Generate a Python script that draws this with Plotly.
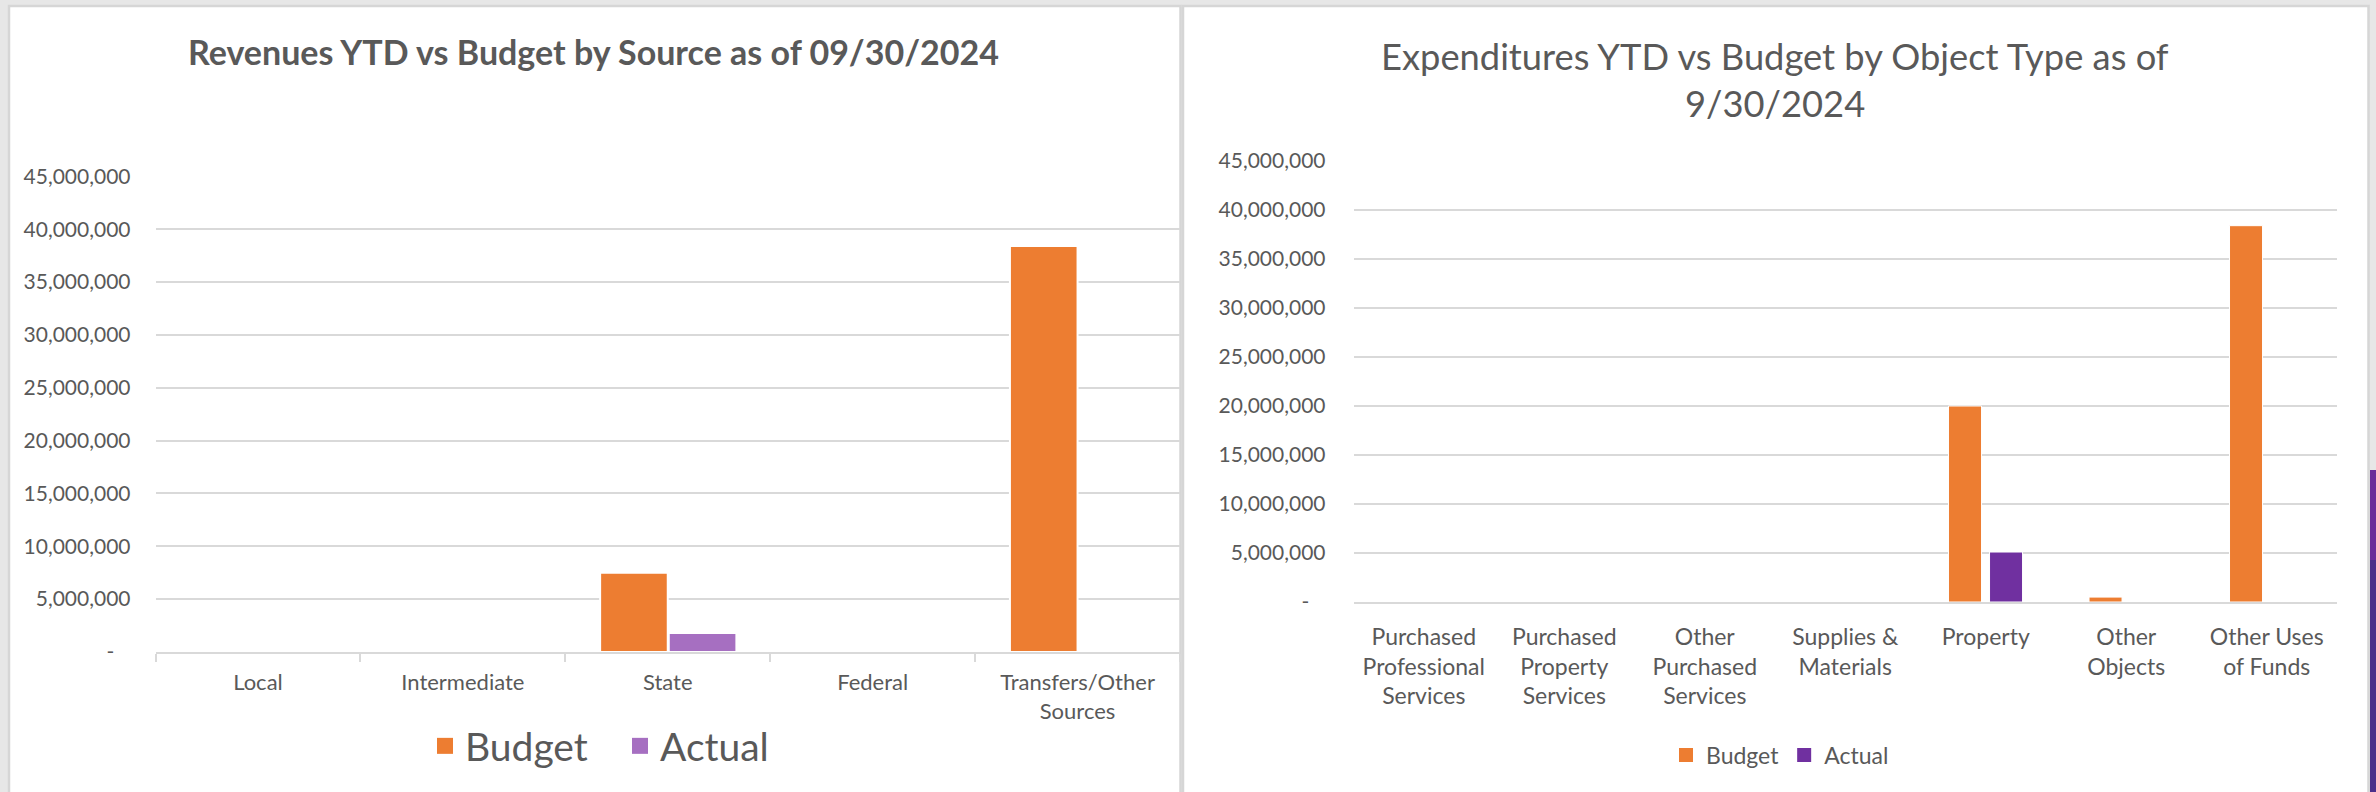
import plotly.graph_objects as go

W, H = 2376, 792

# ---------------- data ----------------
rev_categories = ["Local", "Intermediate", "State", "Federal", "Transfers/Other Sources"]
rev_tick_labels = ["Local", "Intermediate", "State", "Federal", "Transfers/Other<br>Sources"]
rev_budget = [0, 0, 7_500_000, 0, 38_400_000]
rev_actual = [0, 0, 1_800_000, 0, 0]

exp_categories = ["Purchased Professional Services", "Purchased Property Services",
                  "Other Purchased Services", "Supplies & Materials", "Property",
                  "Other Objects", "Other Uses of Funds"]
exp_tick_labels = ["Purchased<br>Professional<br>Services", "Purchased<br>Property<br>Services",
                   "Other<br>Purchased<br>Services", "Supplies &<br>Materials", "Property",
                   "Other<br>Objects", "Other Uses<br>of Funds"]
exp_budget = [0, 0, 0, 0, 20_000_000, 500_000, 38_400_000]
exp_actual = [0, 0, 0, 0, 5_100_000, 0, 0]

y_tick_values = [0, 5_000_000, 10_000_000, 15_000_000, 20_000_000,
                 25_000_000, 30_000_000, 35_000_000, 40_000_000, 45_000_000]
y_tick_labels = ["-\u00a0\u00a0\u00a0", "5,000,000", "10,000,000", "15,000,000", "20,000,000",
                 "25,000,000", "30,000,000", "35,000,000", "40,000,000", "45,000,000"]

series_names = ["Budget", "Actual"]
title_left = "Revenues YTD vs Budget by Source as of 09/30/2024"
title_right_lines = ["Expenditures YTD vs Budget by Object Type as of", "9/30/2024"]

# ---------------- styles ----------------
FONT = "Lato"
TXT = "#595959"
GRID = "#d9d9d9"
ORANGE = "#ED7D31"
PURPLE_LIGHT = "#A66FC1"
PURPLE_DARK = "#7030A0"


def px_x(p):
    return p / W


def px_y(p):
    return 1 - p / H


fig = go.Figure()

# Left chart bars
fig.add_trace(go.Bar(x=rev_categories, y=rev_budget, name=series_names[0],
                     marker=dict(color=ORANGE, line=dict(color="white", width=2)),
                     width=0.33, offset=-0.33, xaxis="x", yaxis="y", showlegend=False))
fig.add_trace(go.Bar(x=rev_categories, y=rev_actual, name=series_names[1],
                     marker=dict(color=PURPLE_LIGHT, line=dict(color="white", width=2)),
                     width=0.33, offset=0.005, xaxis="x", yaxis="y", showlegend=False))

# Right chart bars
fig.add_trace(go.Bar(x=exp_categories, y=exp_budget, name=series_names[0],
                     marker=dict(color=ORANGE, line=dict(color="white", width=1)),
                     width=0.235, offset=-0.265, xaxis="x2", yaxis="y2", showlegend=False))
fig.add_trace(go.Bar(x=exp_categories, y=exp_actual, name=series_names[1],
                     marker=dict(color=PURPLE_DARK, line=dict(color="white", width=1)),
                     width=0.235, offset=0.027, xaxis="x2", yaxis="y2", showlegend=False))

# Legend proxies
for nm, col in zip(series_names, [ORANGE, PURPLE_LIGHT]):
    fig.add_trace(go.Scatter(x=[None], y=[None], mode="markers", name=nm,
                             marker=dict(symbol="square", size=19, color=col),
                             xaxis="x", yaxis="y", legend="legend"))
for nm, col in zip(series_names, [ORANGE, PURPLE_DARK]):
    fig.add_trace(go.Scatter(x=[None], y=[None], mode="markers", name=nm,
                             marker=dict(symbol="square", size=14, color=col),
                             xaxis="x2", yaxis="y2", legend="legend2"))

yaxis_common = dict(range=[0, 45_000_000], tickvals=y_tick_values, ticktext=y_tick_labels,
                    showgrid=True, gridcolor=GRID, gridwidth=2, zeroline=False,
                    showline=False, ticks="", tickfont=dict(family=FONT, size=21, color=TXT),
                    fixedrange=True, automargin=False)

fig.update_layout(
    template="none",
    width=W, height=H,
    margin=dict(l=0, r=0, t=0, b=0, pad=0, autoexpand=False),
    paper_bgcolor="#e7e7e7",
    plot_bgcolor="rgba(0,0,0,0)",
    font=dict(family=FONT, color=TXT),
    barmode="overlay",
    xaxis=dict(domain=[px_x(155.5), px_x(1180)], type="category", automargin=False,
               tickvals=rev_categories, ticktext=rev_tick_labels,
               showline=True, linecolor=GRID, linewidth=2,
               ticks="outside", tickson="boundaries", ticklen=8, tickwidth=2, tickcolor=GRID,
               ticklabelstandoff=10,
               showgrid=False, zeroline=False, layer="above traces", fixedrange=True,
               tickfont=dict(family=FONT, size=22, color=TXT)),
    yaxis=dict(domain=[px_y(652), px_y(176.3)], anchor="x", ticklabelstandoff=24, **yaxis_common),
    xaxis2=dict(domain=[px_x(1353.5), px_x(2337)], type="category", anchor="y2", automargin=False,
                tickvals=exp_categories, ticktext=exp_tick_labels,
                showline=True, linecolor=GRID, linewidth=2, ticks="",
                ticklabelstandoff=13,
                showgrid=False, zeroline=False, layer="above traces", fixedrange=True,
                tickfont=dict(family=FONT, size=23, color=TXT)),
    yaxis2=dict(domain=[px_y(602), px_y(161)], anchor="x2", ticklabelstandoff=27, **yaxis_common),
    legend=dict(orientation="h", x=px_x(620), xanchor="center", y=px_y(746), yanchor="middle",
                font=dict(family=FONT, size=39, color=TXT), bgcolor="rgba(0,0,0,0)",
                entrywidth=150, entrywidthmode="pixels",
                itemclick=False, itemdoubleclick=False),
    legend2=dict(orientation="h", x=px_x(1780), xanchor="center", y=px_y(755), yanchor="middle",
                 font=dict(family=FONT, size=23, color=TXT), bgcolor="rgba(0,0,0,0)",
                 itemclick=False, itemdoubleclick=False),
    showlegend=True,
)

# Panels (background cards)
fig.add_shape(type="rect", xref="paper", yref="paper", layer="below",
              x0=px_x(9), x1=px_x(1180.5), y0=px_y(6), y1=px_y(820),
              fillcolor="white", line=dict(color="#d6d6d6", width=2.5))
fig.add_shape(type="rect", xref="paper", yref="paper", layer="below",
              x0=px_x(1183), x1=px_x(2368.5), y0=px_y(6), y1=px_y(820),
              fillcolor="white", line=dict(color="#d6d6d6", width=2.5))
# purple decorative sliver at right edge
fig.add_shape(type="rect", xref="paper", yref="paper", layer="below",
              x0=px_x(2370), x1=px_x(2380), y0=px_y(470), y1=px_y(560),
              fillcolor="#6a2c9a", line=dict(width=0))
fig.add_shape(type="rect", xref="paper", yref="paper", layer="below",
              x0=px_x(2370), x1=px_x(2380), y0=px_y(560), y1=px_y(800),
              fillcolor="#4b2e8a", line=dict(width=0))

# Titles
fig.add_annotation(text="<b>" + title_left + "</b>", xref="paper", yref="paper",
                   x=px_x(593), y=px_y(52), xanchor="center", yanchor="middle",
                   showarrow=False, font=dict(family=FONT, size=34, color=TXT))
for line, yy in zip(title_right_lines, [55.6, 103.5]):
    fig.add_annotation(text=line, xref="paper", yref="paper",
                       x=px_x(1775), y=px_y(yy), xanchor="center", yanchor="middle",
                       showarrow=False, font=dict(family=FONT, size=36.3, color=TXT))

fig.write_html(
    "out.html",
    config={"displayModeBar": False},
    post_script="document.body.style.margin='0px';document.body.style.overflow='hidden';",
)
